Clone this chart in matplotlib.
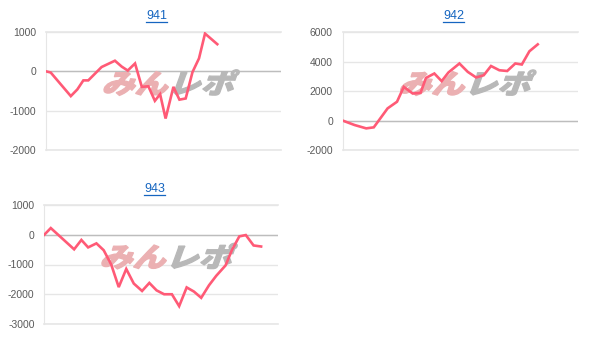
import matplotlib
matplotlib.use("Agg")
import matplotlib.pyplot as plt
from matplotlib.textpath import TextPath
from matplotlib.patches import PathPatch
from matplotlib.font_manager import FontProperties
from matplotlib.transforms import Affine2D
from matplotlib.lines import Line2D

plt.rcParams['font.family'] = ['Liberation Sans', 'DejaVu Sans']
plt.rcParams['axes.unicode_minus'] = False

# machine numbers
titles = ["941", "942", "943"]

# game count / difference
games_941 = [0, 180, 950, 1200, 1430, 1620, 2130, 2640, 2900, 3130, 3410, 3670,
             3920, 4170, 4370, 4580, 4880, 5110, 5350, 5610, 5860, 6090, 6560]
diff_941 = [0, -30, -630, -460, -230, -230, 110, 270, 120, 20, 200, -395,
            -380, -750, -580, -1200, -395, -720, -690, -20, 330, 960, 690]

games_942 = [0, 450, 900, 1190, 1720, 2080, 2340, 2680, 2980, 3190, 3510, 3790,
             4050, 4470, 4790, 5110, 5400, 5680, 6000, 6300, 6610, 6860, 7150, 7470]
diff_942 = [0, -300, -530, -460, 830, 1280, 2290, 1840, 1880, 2900, 3200, 2680,
            3270, 3880, 3310, 2930, 3080, 3710, 3420, 3370, 3880, 3810, 4710, 5180]

games_943 = [0, 250, 1150, 1430, 1690, 2010, 2290, 2580, 2870, 3160, 3450, 3770,
             4050, 4330, 4620, 4920, 5200, 5490, 5770, 6050, 6350, 6630, 6990, 7240,
             7520, 7770, 8070, 8360]
diff_943 = [0, 225, -490, -175, -425, -290, -520, -1000, -1760, -1150, -1640, -1890,
            -1620, -1870, -2000, -2000, -2400, -1770, -1910, -2120, -1700, -1380, -1030,
            -505, -55, -10, -360, -395]

series = [(games_941, diff_941), (games_942, diff_942), (games_943, diff_943)]
ylims = [(-2000, 1000), (-2000, 6000), (-3000, 1000)]
ysteps = [1000, 2000, 1000]
max_games = 9000

W, H = 609, 349
fig = plt.figure(figsize=(W / 100, H / 100), dpi=100)

# axes boxes in pixels: left, top, right, bottom
boxes = [(46, 32, 281, 150), (342.7, 32.3, 577.7, 150), (44.3, 205, 277.7, 324)]

line_color = '#ff5a76'
grid_color = '#e6e6e6'
axes = []
for (l, t, r, b), (gx, dy), yl, step, ttl in zip(boxes, series, ylims, ysteps, titles):
    ax = fig.add_axes([l / W, 1 - b / H, (r - l) / W, (b - t) / H])
    ax.set_xlim(0, max_games)
    ax.set_ylim(*yl)
    ax.set_yticks(range(yl[0], yl[1] + 1, step))
    ax.set_xticks([])
    ax.yaxis.grid(True, color=grid_color, lw=1)
    ax.set_axisbelow(True)
    ax.axhline(yl[0], color=grid_color, lw=1.2, clip_on=False, zorder=1)
    ax.axhline(yl[1], color=grid_color, lw=1.2, clip_on=False, zorder=1)
    ax.axhline(0, color='#bdbdbd', lw=1, zorder=1)
    for s in ['top', 'right', 'bottom']:
        ax.spines[s].set_visible(False)
    ax.spines['left'].set_color(grid_color)
    ax.tick_params(axis='y', length=0, pad=7, labelsize=7.5, labelcolor='#5a5a5a')
    ax.plot(gx, dy, color=line_color, lw=1.9, zorder=5, solid_joinstyle='miter')
    ax.annotate(ttl, xy=(0.5, 1), xycoords='axes fraction', xytext=(-4.7, 11.5),
                textcoords='offset points', ha='center', va='center',
                fontsize=9, color='#1565c0')
    axes.append(ax)

# watermark
jp = FontProperties(family='Noto Sans CJK JP', weight='heavy')
for ax in axes:
    x0, y0 = ax.transAxes.transform((0.235, 0.48))
    for txt, off, col in [("みん", 0.0, '#ebb0b2'), ("レポ", 2.0, '#b8b8b8')]:
        tp = TextPath((off, 0), txt, size=1, prop=jp)
        tr = Affine2D().scale(33, 27).skew_deg(20, 0).translate(x0, y0)
        ax.add_patch(PathPatch(tp, transform=tr, facecolor=col, edgecolor=col,
                               lw=0.9, joinstyle='miter', zorder=3))

# underline titles
fig.canvas.draw()
renderer = fig.canvas.get_renderer()
for ax in axes:
    for t in ax.texts:
        bb = t.get_window_extent(renderer)
        fig.add_artist(Line2D([bb.x0 / W, bb.x1 / W], [(bb.y0 + 0.5) / H] * 2,
                              color='#1565c0', lw=0.9, transform=fig.transFigure))

fig.savefig("out.png", dpi=100)
